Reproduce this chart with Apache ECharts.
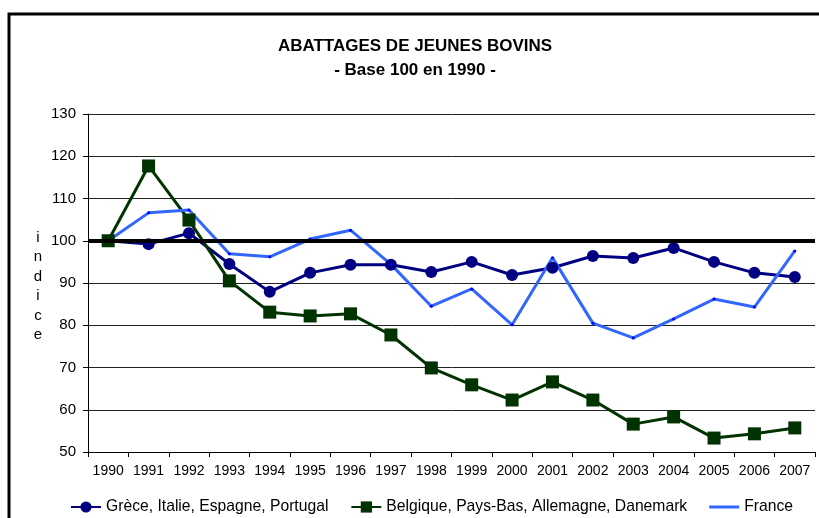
<!DOCTYPE html>
<html>
<head>
<meta charset="utf-8">
<script src="https://cdn.jsdelivr.net/npm/echarts@6/dist/echarts.min.js"></script>
<style>
  html, body { margin: 0; padding: 0; background: #fff; }
  #chart { width: 819px; height: 518px; }
</style>
</head>
<body>
<div id="chart"></div>
<script>
// données
const years = ['1990','1991','1992','1993','1994','1995','1996','1997','1998','1999',
               '2000','2001','2002','2003','2004','2005','2006','2007']
const grece = [100, 99.2, 101.8, 94.5, 87.9, 92.4, 94.3, 94.3, 92.6, 95.0,
               91.9, 93.6, 96.4, 95.9, 98.3, 95.0, 92.4, 91.4]
const belgique = [100, 117.7, 104.9, 90.5, 83.1, 82.2, 82.7, 77.7, 69.9, 65.9,
                  62.3, 66.6, 62.3, 56.6, 58.3, 53.3, 54.3, 55.7]
const france = [100, 106.6, 107.3, 96.9, 96.2, 100.4, 102.5, 94.4, 84.5, 88.6,
                80.1, 96.0, 80.5, 77.0, 81.5, 86.2, 84.3, 97.6]
const baseLine = 100

const font = 'Arial, "Liberation Sans", sans-serif'
const chart = echarts.init(document.getElementById('chart'))

chart.setOption({
  animation: false,
  backgroundColor: '#fff',
  textStyle: { fontFamily: font, color: '#000' },
  title: {
    text: 'ABATTAGES DE JEUNES BOVINS',
    subtext: '- Base 100 en 1990 -',
    left: 410,
    textAlign: 'center',
    top: 33,
    itemGap: 7,
    textStyle: { fontSize: 17, fontWeight: 'bold', color: '#000', fontFamily: font },
    subtextStyle: { fontSize: 17, fontWeight: 'bold', color: '#000', fontFamily: font }
  },
  legend: {
    left: 65,
    top: 494,
    itemWidth: 30,
    itemHeight: 14,
    itemGap: 22,
    textStyle: { fontSize: 15.7, color: '#000', fontFamily: font },
    data: [
      'Grèce, Italie, Espagne, Portugal',
      'Belgique, Pays-Bas, Allemagne, Danemark',
      { name: 'France', icon: 'path://M0,0 H30 V3 H0 Z', itemStyle: { color: '#3366ff' } }
    ]
  },
  grid: { left: 88, right: 4, top: 114, bottom: 66 },
  xAxis: {
    type: 'category',
    data: years,
    boundaryGap: true,
    axisLine: { lineStyle: { color: '#000', width: 1 } },
    axisTick: { show: true, length: 5, lineStyle: { color: '#000' } },
    axisLabel: { color: '#000', fontSize: 14, margin: 12, interval: 0 }
  },
  yAxis: {
    type: 'value',
    min: 50,
    max: 130,
    interval: 10,
    axisLine: { show: true, lineStyle: { color: '#000', width: 1 } },
    axisTick: { show: true, length: 5, lineStyle: { color: '#000' } },
    axisLabel: { color: '#000', fontSize: 15, margin: 12 },
    splitLine: { lineStyle: { color: '#222', width: 1 } }
  },
  graphic: [
    {
      type: 'rect',
      shape: { x: 9, y: 14, width: 900, height: 600 },
      style: { fill: 'none', stroke: '#000', lineWidth: 3 },
      silent: true
    },
    {
      type: 'text',
      x: 38,
      y: 228,
      style: {
        text: 'i\nn\nd\ni\nc\ne',
        fontSize: 15,
        fontFamily: font,
        fill: '#000',
        align: 'center',
        lineHeight: 19.5
      }
    }
  ],
  series: [
    {
      name: 'Grèce, Italie, Espagne, Portugal',
      type: 'line',
      data: grece,
      symbol: 'circle',
      symbolSize: 12,
      color: '#000080',
      lineStyle: { width: 3, color: '#000080' },
      itemStyle: { color: '#000080' },
      markLine: {
        silent: true,
        symbol: 'none',
        label: { show: false },
        lineStyle: { color: '#000', width: 4, type: 'solid' },
        data: [{ yAxis: baseLine }]
      }
    },
    {
      name: 'Belgique, Pays-Bas, Allemagne, Danemark',
      type: 'line',
      data: belgique,
      symbol: 'rect',
      symbolSize: 13,
      color: '#003300',
      lineStyle: { width: 3, color: '#003300' },
      itemStyle: { color: '#003300' }
    },
    {
      name: 'France',
      type: 'line',
      data: france,
      symbol: 'circle',
      symbolSize: 3,
      color: '#3366ff',
      lineStyle: { width: 3, color: '#3366ff' },
      itemStyle: { color: '#0000ff' }
    }
  ]
})
</script>
</body>
</html>
